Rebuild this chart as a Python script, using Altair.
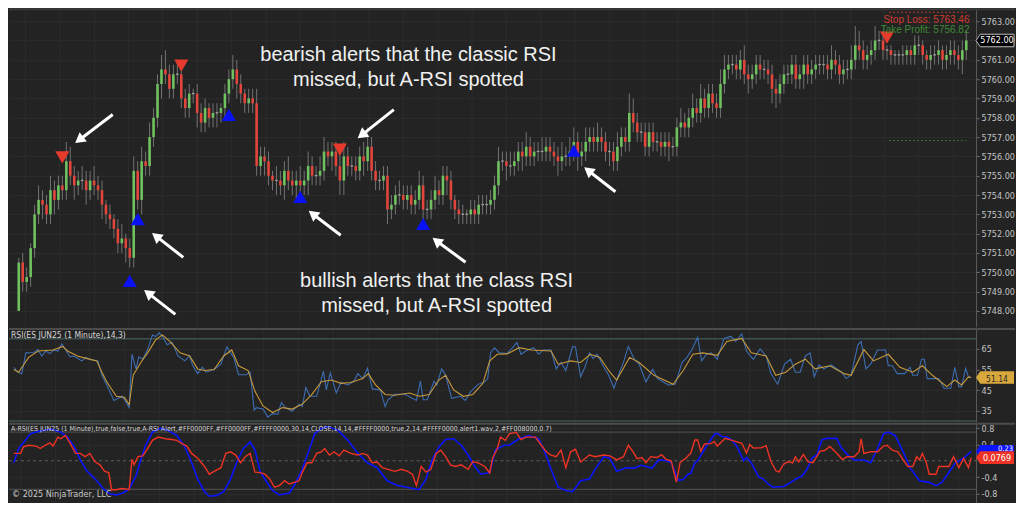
import altair as alt
import pandas as pd
import numpy as np

# ---------------- price bars (1 minute ES JUN25) ----------------
first_open = 5748.0
closes = [
    5750.5, 5749.5, 5749.75, 5751.25, 5753.0, 5753.75, 5753.5, 5753.0, 5754.25, 5753.75,
    5754.5, 5754.25, 5755.75, 5755.0, 5754.5, 5754.75, 5754.75, 5754.25, 5754.75, 5754.5,
    5754.25, 5753.5, 5753.0, 5752.75, 5752.25, 5751.5, 5751.75, 5751.25, 5750.75, 5755.25,
    5753.75, 5755.75, 5755.5, 5757.0, 5758.0, 5759.75, 5760.5, 5760.25, 5759.5, 5760.25,
    5760.25, 5759.0, 5758.5, 5759.25, 5759.25, 5758.25, 5757.75, 5758.5, 5758.0, 5758.25,
    5758.25, 5758.5, 5759.25, 5760.0, 5760.5, 5759.75, 5759.25, 5758.75, 5759.0, 5758.75,
    5755.5, 5756.0, 5755.75, 5755.0, 5754.75, 5754.75, 5754.5, 5755.25, 5754.75, 5754.5,
    5754.75, 5754.5, 5754.75, 5755.5, 5755.0, 5755.0, 5755.25, 5756.25, 5756.0, 5756.25,
    5755.5, 5754.75, 5756.0, 5755.5, 5755.5, 5755.25, 5756.0, 5755.75, 5756.5, 5755.25,
    5754.75, 5754.75, 5755.0, 5753.25, 5753.5, 5754.0, 5754.0, 5753.75, 5754.0, 5753.5,
    5753.75, 5754.5, 5753.25, 5753.25, 5753.75, 5754.25, 5754.0, 5755.0, 5754.75, 5753.75,
    5753.25, 5753.0, 5753.0, 5753.0, 5753.25, 5753.0, 5753.5, 5753.5, 5753.5, 5753.75,
    5754.5, 5755.75, 5755.75, 5755.5, 5755.5, 5755.75, 5756.25, 5756.0, 5756.5, 5756.0,
    5756.25, 5756.25, 5756.25, 5756.5, 5756.25, 5756.0, 5755.75, 5756.0, 5756.0, 5756.25,
    5756.75, 5756.0, 5756.25, 5756.75, 5757.0, 5756.75, 5757.0, 5756.75, 5756.25, 5756.25,
    5755.75, 5756.5, 5757.0, 5756.75, 5758.25, 5757.75, 5757.25, 5757.25, 5756.5, 5757.25,
    5756.75, 5756.75, 5756.5, 5756.75, 5756.5, 5756.5, 5757.5, 5757.75, 5757.5, 5758.0,
    5758.5, 5758.25, 5759.0, 5758.5, 5759.25, 5758.75, 5758.5, 5759.75, 5760.5, 5760.75,
    5760.75, 5760.5, 5761.0, 5760.25, 5760.0, 5760.25, 5760.75, 5760.5, 5760.5, 5760.25,
    5759.5, 5759.25, 5759.75, 5760.25, 5760.25, 5760.75, 5760.0, 5760.25, 5760.75, 5760.25,
    5760.5, 5760.75, 5760.75, 5760.75, 5760.5, 5761.0, 5760.75, 5760.25, 5760.5, 5760.5,
    5761.0, 5761.75, 5761.5, 5761.0, 5761.25, 5761.5, 5762.0, 5762.0, 5761.5, 5761.5,
    5761.25, 5761.25, 5761.25, 5761.25, 5761.5, 5761.25, 5761.75, 5761.75, 5761.25, 5761.0,
    5761.25, 5761.25, 5761.5, 5761.0, 5761.25, 5761.5, 5761.25, 5761.0, 5761.5, 5762.0,
]
tick_size = 0.25
wick_up_ticks = [
    1, 2, 2, 1, 2, 3, 2, 2, 3, 2, 2, 2, 4, 3, 2, 2, 3, 2, 2, 3,
    2, 2, 1, 2, 1, 2, 3, 1, 2, 3, 2, 3, 2, 3, 2, 2, 3, 4, 2, 2,
    3, 2, 2, 2, 1, 2, 2, 2, 1, 2, 2, 1, 2, 2, 3, 2, 2, 1, 2, 2,
    3, 2, 2, 2, 1, 3, 2, 2, 3, 2, 2, 3, 2, 3, 2, 2, 3, 3, 2, 2,
    2, 3, 3, 2, 2, 2, 2, 3, 4, 2, 2, 2, 2, 2, 2, 2, 3, 2, 2, 2,
    2, 3, 2, 2, 2, 3, 2, 2, 2, 2, 1, 2, 2, 1, 2, 2, 2, 2, 2, 2,
    2, 3, 2, 2, 3, 2, 2, 2, 3, 2, 2, 2, 3, 2, 2, 2, 2, 3, 2, 3,
    3, 2, 2, 3, 2, 2, 3, 2, 2, 2, 2, 3, 2, 2, 4, 3, 2, 2, 2, 2,
    2, 2, 2, 2, 2, 2, 2, 3, 2, 2, 3, 2, 3, 2, 2, 2, 2, 3, 3, 2,
    2, 2, 2, 3, 2, 2, 2, 2, 2, 2, 2, 2, 2, 2, 2, 2, 2, 2, 2, 2,
    2, 2, 2, 2, 2, 3, 2, 2, 2, 2, 3, 4, 3, 2, 2, 2, 3, 2, 2, 1,
    1, 1, 1, 2, 1, 1, 2, 2, 1, 1, 2, 2, 2, 1, 2, 2, 2, 2, 2, 2,
]
wick_dn_ticks = [
    0, 2, 2, 2, 2, 2, 3, 2, 2, 3, 2, 2, 2, 2, 3, 2, 2, 3, 2, 2,
    2, 3, 2, 2, 2, 2, 2, 3, 2, 2, 2, 3, 2, 2, 2, 2, 3, 2, 2, 2,
    2, 2, 2, 2, 2, 3, 2, 2, 2, 2, 3, 2, 2, 2, 2, 3, 2, 2, 2, 2,
    2, 2, 3, 2, 2, 3, 2, 3, 2, 2, 3, 2, 2, 3, 2, 2, 2, 2, 2, 3,
    2, 3, 3, 2, 2, 2, 2, 3, 2, 2, 2, 2, 2, 3, 2, 2, 2, 2, 2, 2,
    2, 2, 3, 2, 2, 2, 2, 2, 3, 2, 2, 2, 2, 2, 2, 2, 2, 2, 2, 2,
    2, 2, 2, 3, 2, 2, 2, 3, 2, 2, 2, 2, 2, 2, 2, 2, 3, 2, 2, 2,
    2, 3, 2, 2, 2, 2, 2, 2, 2, 3, 2, 2, 2, 2, 2, 2, 2, 2, 2, 2,
    2, 2, 2, 2, 3, 2, 2, 2, 2, 2, 2, 2, 2, 2, 2, 2, 2, 2, 2, 2,
    2, 2, 2, 2, 3, 2, 2, 2, 2, 2, 3, 3, 2, 2, 2, 2, 2, 2, 3, 2,
    2, 2, 2, 2, 2, 2, 2, 2, 2, 2, 2, 2, 2, 2, 2, 2, 2, 2, 2, 2,
    2, 2, 2, 2, 2, 2, 2, 2, 2, 2, 2, 2, 2, 2, 2, 2, 2, 2, 3, 2,
]

# ---------------- RSI(14,3) panel: (bar, value) ----------------
rsi_pts = [
    (0, 56.1), (1, 53.7), (2, 53.0), (3, 63.1), (5, 63.3), (6, 64.7), (7, 61.5), (8, 64.0), (9, 62.7),
    (10, 64.5), (11, 64.0), (12, 67.5), (14, 61.2), (15, 61.5), (17, 59.2), (18, 60.9), (19, 60.0),
    (21, 59.2), (22, 52.2), (23, 48.3), (25, 40.0), (27, 42.0), (27.6, 40.5), (28.8, 36.5), (29.5, 62.4),
    (30.5, 55.3), (31.2, 61.2), (32.2, 60.0), (33.4, 64.7), (34.6, 71.8), (35.4, 71.0), (36.3, 72.8),
    (37.1, 71.0), (38.3, 67.0), (39.5, 68.2), (41.0, 61.6), (42.7, 59.2), (43.9, 61.6), (44.6, 57.2),
    (45.9, 53.0), (47.1, 56.1), (48.0, 53.7), (50.0, 55.0), (51.7, 57.6), (53.2, 66.0), (54.1, 63.1),
    (54.9, 60.9), (56.1, 52.5), (58.0, 52.5), (59.0, 53.7), (60.0, 35.3), (60.5, 36.5), (62.2, 35.8),
    (63.4, 31.9), (64.6, 33.6), (65.9, 33.3), (66.8, 38.9), (67.8, 36.5), (69.5, 34.7), (71.2, 38.2),
    (72.0, 37.0), (72.9, 46.2), (73.9, 42.0), (75.6, 42.0), (77.3, 54.1), (78.0, 45.1), (79.0, 53.4),
    (80.5, 43.6), (81.7, 48.7), (83.4, 47.5), (84.9, 49.4), (85.9, 53.0), (87.1, 50.6), (88.3, 55.6),
    (89.5, 45.6), (91.5, 45.1), (92.7, 37.0), (93.4, 40.3), (95.1, 43.0), (97.6, 43.0), (100.5, 40.0),
    (101.5, 49.4), (102.2, 40.3), (103.2, 40.3), (104.9, 49.4), (105.6, 47.5), (106.8, 55.3),
    (107.8, 52.2), (109.3, 41.0), (111.5, 42.0), (112.7, 40.0), (114.1, 44.4), (115.9, 47.8),
    (117.6, 49.1), (118.3, 50.6), (119.0, 63.1), (120.0, 65.5), (121.2, 63.1), (123.2, 62.8),
    (125.6, 68.1), (126.6, 62.4), (127.8, 64.0), (129.8, 65.6), (131.0, 62.4), (132.2, 64.5),
    (134.1, 64.5), (135.4, 55.3), (136.6, 58.4), (137.8, 54.5), (139.5, 66.2), (140.2, 66.0),
    (141.5, 51.4), (142.7, 56.8), (143.7, 63.1), (144.6, 60.3), (145.6, 62.4), (147.3, 56.1),
    (148.5, 52.2), (149.8, 45.9), (151.2, 53.7), (152.2, 58.6), (153.4, 66.2), (154.9, 60.0),
    (156.1, 57.6), (157.8, 49.0), (159.5, 55.0), (160.7, 50.6), (163.4, 47.5), (165.1, 47.8),
    (166.8, 58.4), (168.0, 60.9), (169.3, 64.7), (170.7, 70.6), (171.7, 59.2), (172.9, 62.4),
    (174.1, 63.1), (175.6, 60.0), (177.3, 70.1), (179.0, 71.2), (180.2, 68.6), (181.7, 72.3),
    (182.9, 64.0), (184.6, 60.0), (186.3, 65.0), (187.8, 61.6), (189.0, 53.0), (190.7, 47.8),
    (192.4, 57.6), (193.9, 60.0), (195.1, 53.7), (196.3, 53.7), (197.6, 61.6), (198.8, 63.1),
    (199.8, 51.4), (201.0, 57.2), (202.2, 55.3), (204.1, 57.2), (206.6, 53.7), (207.8, 50.6),
    (209.0, 52.2), (210.7, 67.0), (211.5, 68.6), (212.7, 55.3), (213.9, 57.6), (215.6, 64.5),
    (217.6, 64.5), (218.3, 56.8), (219.3, 56.8), (220.5, 53.0), (222.4, 53.0), (223.7, 56.1),
    (224.4, 52.2), (225.6, 52.2), (226.6, 60.0), (227.3, 60.0), (228.0, 50.6), (230.9, 50.6),
    (232.2, 45.9), (233.9, 45.9), (234.9, 56.1), (235.9, 46.7), (236.6, 46.7), (237.6, 55.6),
    (238.3, 51.4), (239.0, 51.14),
]
signal_pts = [
    (0, 55.0), (1.2, 53.7), (3.7, 60.9), (6.1, 64.0), (9.8, 64.5), (12.2, 66.2), (13.4, 64.0),
    (15.9, 61.6), (18.3, 60.3), (20.7, 59.2), (22.0, 53.7), (23.2, 49.1), (25.6, 42.0), (27.6, 41.5),
    (28.8, 38.0), (29.8, 52.2), (31.7, 58.4), (33.4, 63.1), (35.4, 69.4), (37.1, 71.8), (39.0, 68.6),
    (41.5, 63.1), (43.9, 61.6), (45.9, 55.3), (47.6, 54.5), (50.0, 55.0), (52.4, 61.6), (54.4, 64.5),
    (56.1, 56.8), (58.5, 54.5), (60.2, 44.4), (62.2, 37.3), (64.6, 34.1), (67.1, 36.5), (69.5, 35.8),
    (72.0, 38.2), (74.4, 42.9), (76.8, 49.1), (79.3, 49.9), (81.7, 48.3), (84.1, 48.7), (87.1, 50.6),
    (88.5, 53.0), (90.2, 47.8), (92.7, 42.9), (95.1, 42.5), (98.8, 43.6), (101.2, 42.0), (103.7, 42.9),
    (106.1, 49.9), (107.8, 52.2), (109.8, 45.1), (112.2, 42.0), (114.6, 42.9), (117.1, 48.3),
    (118.8, 59.2), (120.7, 62.4), (123.2, 62.6), (126.1, 65.6), (129.3, 64.5), (134.1, 64.0),
    (135.9, 57.6), (139.0, 59.2), (141.5, 58.4), (143.9, 62.4), (146.3, 60.9), (148.8, 53.7),
    (150.5, 49.9), (153.7, 60.9), (156.1, 58.4), (159.8, 52.2), (164.6, 47.8), (167.1, 54.5),
    (169.5, 62.4), (172.0, 63.1), (175.6, 61.9), (178.0, 68.6), (181.7, 70.1), (184.1, 63.1),
    (187.8, 61.6), (190.2, 52.2), (192.7, 53.7), (195.1, 57.6), (197.6, 60.0), (200.0, 55.3),
    (203.7, 56.8), (207.3, 53.0), (209.0, 52.2), (212.2, 64.7), (214.6, 59.2), (218.3, 62.4),
    (221.2, 56.1), (224.4, 53.7), (226.8, 56.8), (229.3, 52.2), (232.9, 46.7), (234.9, 49.9),
    (236.6, 47.5), (238.3, 51.4), (239.0, 51.1),
]

# ---------------- A-RSI panel: (bar, value) ----------------
arsi_blue_pts = [
    (0, -0.05), (1.2, 0.30), (2.9, 0.50), (4.1, 0.66), (6.1, 0.72), (9.3, 0.78), (11.7, 0.70),
    (13.4, 0.58), (15.1, 0.34), (16.6, 0.02), (18.3, -0.26), (19.5, -0.37), (20.7, -0.49),
    (22.4, -0.69), (23.9, -0.81), (25.6, -0.84), (27.3, -0.79), (28.8, -0.69), (30.5, -0.37),
    (31.7, 0.02), (32.9, 0.38), (34.6, 0.70), (36.6, 0.80), (38.5, 0.74), (40.7, 0.62), (42.7, 0.34),
    (44.4, -0.05), (45.9, -0.45), (47.6, -0.76), (48.8, -0.87), (50.7, -0.85), (52.4, -0.76),
    (54.1, -0.45), (55.6, -0.05), (57.3, 0.30), (59.0, 0.46), (60.2, 0.26), (61.5, -0.26),
    (62.9, -0.49), (64.6, -0.73), (66.3, -0.84), (68.8, -0.79), (70.2, -0.57), (72.0, -0.21),
    (73.7, 0.26), (75.1, 0.66), (76.8, 0.80), (78.5, 0.84), (81.0, 0.74), (83.4, 0.50), (85.9, 0.18),
    (88.3, -0.05), (90.7, -0.17), (93.2, -0.49), (95.6, -0.60), (98.0, -0.65), (101.2, -0.71),
    (102.9, -0.45), (104.4, 0.02), (106.1, 0.34), (107.8, 0.52), (109.8, 0.54), (111.7, 0.38),
    (113.4, 0.14), (115.1, -0.14), (116.6, -0.33), (118.8, -0.29), (120.2, 0.26), (122.4, 0.38),
    (123.7, 0.38), (126.1, 0.54), (128.5, 0.62), (131.0, 0.54), (132.7, 0.18), (134.1, -0.21),
    (135.9, -0.65), (137.8, -0.73), (139.5, -0.76), (141.5, -0.49), (143.7, -0.45), (145.1, -0.21),
    (147.3, 0.10), (148.8, 0.06), (150.5, -0.26), (152.9, -0.17), (154.9, -0.18), (156.6, -0.11),
    (159.3, -0.18), (161.0, 0.02), (162.9, 0.0), (164.1, -0.05), (165.9, -0.48), (167.1, -0.46),
    (168.3, -0.33), (169.0, -0.31), (170.0, -0.05), (170.7, 0.0), (172.7, 0.33), (174.9, 0.65),
    (175.6, 0.67), (176.8, 0.59), (178.0, 0.59), (179.3, 0.50), (180.5, 0.35), (182.2, 0.0),
    (182.9, 0.08), (184.1, -0.05), (185.9, -0.39), (187.1, -0.45), (188.3, -0.57), (189.5, -0.65),
    (192.2, -0.63), (193.9, -0.53), (195.6, -0.43), (196.8, -0.37), (198.0, -0.21), (199.3, 0.07),
    (200.5, 0.15), (201.7, 0.51), (202.9, 0.55), (205.4, 0.55), (206.6, 0.31), (208.5, 0.11),
    (209.8, 0.02), (212.2, 0.02), (213.9, -0.05), (215.6, 0.30), (217.1, 0.66), (218.3, 0.70),
    (220.0, 0.62), (222.0, 0.22), (223.7, -0.17), (226.1, -0.49), (228.5, -0.53), (230.2, -0.61),
    (231.7, -0.53), (233.4, -0.29), (235.1, -0.05), (237.1, 0.06), (239.0, 0.23),
]
arsi_red_pts = [
    (0, 0.18), (1.7, 0.18), (2.4, 0.34), (3.7, 0.38), (5.6, 0.36), (6.6, 0.30), (7.8, 0.38), (9.0, 0.44),
    (9.8, 0.36), (11.0, 0.58), (11.7, 0.54), (12.9, 0.62), (14.1, 0.42), (15.4, 0.18), (16.6, 0.18),
    (17.8, 0.10), (19.0, 0.18), (20.2, -0.02), (21.5, -0.10), (22.7, -0.26), (23.7, -0.29),
    (24.4, -0.71), (25.6, -0.71), (26.8, -0.68), (28.0, -0.69), (28.8, -0.71), (29.5, 0.04),
    (30.0, -0.10), (31.0, 0.10), (32.2, 0.12), (33.4, 0.30), (34.6, 0.50), (36.1, 0.58), (37.8, 0.54),
    (39.5, 0.52), (40.7, 0.50), (42.0, 0.42), (43.2, 0.36), (44.4, 0.18), (45.9, 0.06), (47.6, -0.14),
    (48.8, -0.33), (50.0, -0.26), (51.7, -0.17), (52.9, 0.18), (54.1, 0.22), (55.4, 0.14),
    (56.6, -0.05), (57.8, 0.10), (59.0, 0.18), (60.2, -0.28), (61.5, -0.29), (62.7, -0.33),
    (63.9, -0.45), (65.1, -0.65), (66.3, -0.61), (67.6, -0.49), (68.8, -0.57), (70.0, -0.53),
    (71.2, -0.49), (72.0, -0.29), (73.2, -0.05), (74.4, -0.05), (75.6, 0.18), (76.8, 0.22),
    (77.6, 0.30), (78.8, 0.14), (80.0, 0.22), (81.2, 0.12), (82.4, 0.26), (84.1, 0.18), (85.9, 0.14),
    (87.1, 0.18), (88.3, 0.14), (89.5, -0.05), (90.7, -0.03), (92.0, -0.17), (93.4, -0.21),
    (95.1, -0.26), (96.8, -0.21), (98.3, -0.26), (99.5, -0.33), (100.5, -0.61), (101.7, -0.14),
    (102.9, -0.28), (104.1, -0.21), (105.4, 0.18), (106.6, 0.26), (107.8, 0.10), (109.0, -0.10),
    (110.2, -0.14), (111.7, -0.10), (113.4, -0.21), (114.6, -0.02), (115.9, -0.05), (117.6, -0.14),
    (118.8, -0.30), (119.5, 0.06), (120.7, 0.30), (121.5, 0.58), (122.7, 0.50), (123.7, 0.66),
    (125.4, 0.70), (126.6, 0.52), (127.8, 0.58), (130.2, 0.58), (131.7, 0.38), (132.9, 0.22),
    (134.1, 0.14), (135.4, 0.10), (136.6, 0.26), (137.8, -0.17), (139.0, 0.22), (140.2, 0.28),
    (141.5, -0.03), (143.7, 0.14), (145.1, 0.10), (147.3, 0.14), (148.8, 0.12), (150.5, 0.02),
    (152.2, 0.10), (153.4, 0.38), (154.6, 0.22), (155.6, 0.05), (156.8, 0.08), (157.8, -0.05),
    (159.0, 0.10), (160.5, 0.08), (161.7, 0.15), (162.9, 0.03), (164.1, 0.0), (165.4, -0.52),
    (166.3, -0.05), (167.8, 0.07), (169.0, 0.19), (170.0, 0.51), (170.7, 0.51), (171.5, 0.23),
    (172.4, 0.41), (173.9, 0.42), (174.9, 0.47), (175.6, 0.36), (177.6, 0.55), (179.3, 0.50),
    (181.7, 0.43), (182.9, 0.19), (183.7, 0.40), (184.6, 0.31), (186.6, 0.32), (187.8, 0.37),
    (189.0, -0.02), (190.2, -0.24), (191.0, -0.28), (192.2, -0.08), (193.4, -0.02), (194.4, -0.05),
    (195.1, 0.10), (195.9, -0.03), (197.1, 0.15), (198.3, -0.03), (199.5, -0.05), (201.2, 0.23),
    (202.4, 0.25), (203.7, 0.35), (205.4, 0.19), (206.8, 0.03), (208.0, 0.10), (209.8, 0.10),
    (211.0, 0.22), (211.5, 0.54), (212.2, 0.18), (213.9, 0.22), (215.6, 0.22), (217.1, 0.36),
    (218.0, 0.38), (219.3, 0.26), (220.7, 0.22), (222.0, 0.02), (223.2, -0.14), (224.4, -0.14),
    (225.4, 0.10), (226.1, 0.02), (226.8, 0.18), (227.8, -0.05), (228.5, -0.33), (230.2, -0.33),
    (230.9, -0.14), (233.4, -0.14), (234.6, 0.10), (235.9, -0.17), (237.1, 0.06), (238.3, -0.17),
    (239.0, 0.0769),
]

# ---------------- alerts, arrows, notes ----------------
bear_bar = [11, 41, 81, 219]
bear_price = [5755.95, 5760.7, 5756.35, 5762.15]
bull_bar = [28, 30, 53, 71, 102, 140]
bull_price = [5749.55, 5752.75, 5758.15, 5753.9, 5752.5, 5756.3]

arrow_tail_bar = [23.7, 41.5, 39.5, 94.6, 81.2, 112.7, 150.5]
arrow_tail_price = [5758.17, 5750.77, 5747.82, 5758.42, 5751.92, 5750.52, 5754.17]
arrow_head_bar = [14.1, 33.7, 31.7, 85.4, 73.2, 104.4, 142.7]
arrow_head_price = [5756.67, 5752.02, 5749.07, 5756.92, 5753.17, 5751.77, 5755.42]
arrow_angle = [232, 308, 308, 232, 308, 308, 308]

note_text = [
    "bearish alerts that the classic RSI\nmissed, but A-RSI spotted",
    "bullish alerts that the class RSI\nmissed, but A-RSI spotted",
]
note_bar = [98.3, 105.4]
note_price = [5761.27, 5749.57]   # first line of each note

stop_loss = 5763.46
take_profit = 5756.82
order_bars = [219.5, 239.0]
rsi_last_label = "51.14"
blue_last_label = "0.23"
red_last_label = "0.0769"

price_ticks = list(range(5748, 5764))
rsi_ticks = [35, 45, 55, 65]
rsi_levels = [30, 70]
arsi_ticks = [-0.8, -0.4, 0.4, 0.8]
arsi_levels = [-0.7, 0.7]

rsi_title = "RSI(ES JUN25 (1 Minute),14,3)"
arsi_title = ("A-RSI(ES JUN25 (1 Minute),true,false,true,A-RSI Alert,#FF0000FF,#FF0000FF,#FFFF0000,30,14,"
              "CLOSE,14,14,#FFFF0000,true,2,14,#FFFF0000,alert1.wav,2,#FF008000,0.7)")
copyright_text = "\u00a9 2025 NinjaTrader, LLC"

# ---------------- layout & style ----------------
W = 968
H1, H2, H3 = 319, 94, 80
XDOM = [-1.2, 240.2]
PDOM = [5747.17, 5763.67]
RDOM = [29.6, 75.2]
ADOM = [-1.03, 0.93]

BG = "#232323"
GRID = "#2c2c2c"
AXT = "#c4c4c4"
SEP = "#4c4c4c"
GREEN = "#6fc25f"
RED = "#e2453b"
WICK = "#727272"
SMALL = "Liberation Sans Narrow, DejaVu Sans Condensed, Liberation Sans, Arial"
BIG = "Liberation Sans, Arial"
TAG = "M-1,0L-0.78,-0.33L1,-0.33L1,0.33L-0.78,0.33Z"

grid_x = [round(1.51 + 8.67 * k, 2) for k in range(28)]

x_axis = alt.Axis(values=grid_x, labels=False, ticks=False, domain=False, grid=True,
                  gridColor=GRID, title=None)
xscale = alt.Scale(domain=XDOM, nice=False, zero=False)


def X(field):
    return alt.X(f"{field}:Q", scale=xscale, axis=x_axis)


def yaxis(values, fmt=None, expr=None):
    kw = dict(orient="right", values=values, labelColor=AXT, labelFont=SMALL, labelFontSize=9,
              tickColor="#707070", tickSize=3, labelPadding=2, domainColor="#5a5a5a",
              grid=True, gridColor=GRID, title=None, labelOverlap=False)
    if fmt:
        kw["format"] = fmt
    if expr:
        kw["labelExpr"] = expr
    return alt.Axis(**kw)


p_axis = yaxis(price_ticks, fmt=".2f")
r_axis = yaxis(rsi_ticks, fmt="d")
a_axis = yaxis(arsi_ticks, expr="replace(format(datum.value, '.1~f'), '\u2212', '-')")
pscale = alt.Scale(domain=PDOM, nice=False, zero=False)
rscale = alt.Scale(domain=RDOM, nice=False, zero=False)
ascale = alt.Scale(domain=ADOM, nice=False, zero=False)


def PY(field):
    return alt.Y(f"{field}:Q", scale=pscale, axis=p_axis)


def RY(field):
    return alt.Y(f"{field}:Q", scale=rscale, axis=r_axis)


def AY(field):
    return alt.Y(f"{field}:Q", scale=ascale, axis=a_axis)


# ---------------- tables ----------------
opens = [first_open] + closes[:-1]
bars = pd.DataFrame({"bar": range(len(closes)), "open": opens, "close": closes})
bars["top"] = bars[["open", "close"]].max(axis=1)
bars["bot"] = bars[["open", "close"]].min(axis=1)
bars["high"] = bars["top"] + np.array(wick_up_ticks) * tick_size
bars["low"] = bars["bot"] - np.array(wick_dn_ticks) * tick_size
bars["dir"] = np.where(bars["close"] > bars["open"], "up",
                       np.where(bars["close"] < bars["open"], "down", "flat"))
bars["btop"] = np.where(bars["dir"] == "flat", bars["top"] + 0.04, bars["top"])
bars["bbot"] = np.where(bars["dir"] == "flat", bars["bot"] - 0.03, bars["bot"])

bear = pd.DataFrame({"bar": bear_bar, "price": bear_price})
bull = pd.DataFrame({"bar": bull_bar, "price": bull_price})
arrows = pd.DataFrame({"tb": arrow_tail_bar, "tp": arrow_tail_price,
                       "hb": arrow_head_bar, "hp": arrow_head_price, "ang": arrow_angle})
arrows["cb"] = arrows["hb"] + (arrows["tb"] - arrows["hb"]) * 0.12
arrows["cp"] = arrows["hp"] + (arrows["tp"] - arrows["hp"]) * 0.12
notes = pd.DataFrame({"bar": note_bar, "price": note_price, "t": note_text})
sl_line = pd.DataFrame({"b1": [order_bars[0]], "b2": [order_bars[1]], "lvl": [stop_loss]})
tp_line = pd.DataFrame({"b1": [order_bars[0]], "b2": [order_bars[1]], "lvl": [take_profit]})
sl_txt = pd.DataFrame({"bar": [order_bars[1] + 0.8], "price": [5763.05],
                       "t": [f"Stop Loss: {stop_loss:.2f}"]})
tp_txt = pd.DataFrame({"bar": [order_bars[1] + 0.8], "price": [5762.55],
                       "t": [f"Take Profit: {take_profit:.2f}"]})
last_price = pd.DataFrame({"v": [closes[-1]], "t": [f"{closes[-1]:.2f}"]})

rsi = pd.DataFrame(rsi_pts, columns=["bar", "v"])
sig = pd.DataFrame(signal_pts, columns=["bar", "v"])
ablue = pd.DataFrame(arsi_blue_pts, columns=["bar", "v"])
ared = pd.DataFrame(arsi_red_pts, columns=["bar", "v"])
rlev = pd.DataFrame({"v": rsi_levels})
alev = pd.DataFrame({"v": arsi_levels})
azero = pd.DataFrame({"v": [0.0]})
rsi_tag = pd.DataFrame({"v": [rsi_pts[-1][1]], "t": [rsi_last_label]})
blue_tag = pd.DataFrame({"v": [arsi_blue_pts[-1][1]], "t": [blue_last_label]})
red_tag = pd.DataFrame({"v": [arsi_red_pts[-1][1]], "t": [red_last_label]})
one = pd.DataFrame({"t": [""]})

TAGX = W + 19

# ---------------- price panel ----------------
wicks = alt.Chart(bars).mark_rule(color=WICK, strokeWidth=1).encode(
    x=X("bar"), y=PY("low"), y2="high")
bodies = alt.Chart(bars).mark_bar(size=2.6).encode(
    x=X("bar"), y=PY("bbot"), y2="btop",
    color=alt.Color("dir:N", scale=alt.Scale(domain=["up", "down", "flat"],
                                             range=[GREEN, RED, "#a0a0a0"]), legend=None))
bear_m = alt.Chart(bear).mark_point(shape="triangle-down", filled=True, size=200,
                                    color="#e63b2c", opacity=1).encode(x=X("bar"), y=PY("price"))
bull_m = alt.Chart(bull).mark_point(shape="triangle-up", filled=True, size=200,
                                    color="#0a12f5", opacity=1).encode(x=X("bar"), y=PY("price"))
arrow_lines = alt.Chart(arrows).mark_rule(color="#ffffff", strokeWidth=3).encode(
    x=X("tb"), y=PY("tp"), x2="cb", y2="cp")
arrow_heads = alt.Chart(arrows).mark_point(shape="triangle-up", filled=True, size=140,
                                           color="#ffffff", opacity=1).encode(
    x=X("cb"), y=PY("cp"), angle=alt.Angle("ang:Q", scale=None))
note_m = alt.Chart(notes).mark_text(font=BIG, fontSize=20, color="#f0f0f0", lineBreak="\n",
                                    lineHeight=25, align="center", baseline="middle").encode(
    x=X("bar"), y=PY("price"), text="t:N")
sl_rule = alt.Chart(sl_line).mark_rule(strokeDash=[2, 2], strokeWidth=1, color="#b8392e").encode(
    x=X("b1"), x2="b2", y=PY("lvl"))
tp_rule = alt.Chart(tp_line).mark_rule(strokeDash=[2, 2], strokeWidth=1, color="#2f7a2f").encode(
    x=X("b1"), x2="b2", y=PY("lvl"))
sl_label = alt.Chart(sl_txt).mark_text(font=BIG, fontSize=10, align="right", baseline="middle",
                                       color="#d23a2e").encode(x=X("bar"), y=PY("price"), text="t:N")
tp_label = alt.Chart(tp_txt).mark_text(font=BIG, fontSize=10, align="right", baseline="middle",
                                       color="#3d8a35").encode(x=X("bar"), y=PY("price"), text="t:N")
price_tag = alt.Chart(last_price).mark_point(shape=TAG, filled=True, size=1444, fill="#000000",
                                             stroke="#bdbdbd", strokeWidth=1, opacity=1).encode(
    x=alt.value(TAGX), y=PY("v"))
price_tag_t = alt.Chart(last_price).mark_text(font=SMALL, fontSize=9, color="#ffffff",
                                              align="center", baseline="middle").encode(
    x=alt.value(TAGX + 2), y=PY("v"), text="t:N")
top_border = alt.Chart(one).mark_rule(color="#3a3a3a", strokeWidth=2).encode(
    x=alt.value(0), x2=alt.value(W + 39), y=alt.value(1))

p1 = alt.layer(wicks, bodies, sl_rule, tp_rule, bear_m, bull_m, arrow_lines, arrow_heads, note_m,
               sl_label, tp_label, price_tag, price_tag_t, top_border).properties(width=W, height=H1)

# ---------------- RSI panel ----------------
r_lev = alt.Chart(rlev).mark_rule(color="#3e5150", strokeWidth=1.5).encode(
    y=RY("v"), x=alt.value(0), x2=alt.value(W))
r_line = alt.Chart(rsi).mark_line(color="#3d6db3", strokeWidth=1.1).encode(x=X("bar"), y=RY("v"))
s_line = alt.Chart(sig).mark_line(color="#c79a3b", strokeWidth=1.1).encode(x=X("bar"), y=RY("v"))
r_title = alt.Chart(one.assign(t=[rsi_title])).mark_text(
    font=SMALL, fontSize=8.5, color="#d6d6d6", align="left", baseline="middle").encode(
    x=alt.value(2), y=alt.value(7), text="t:N")
r_tag = alt.Chart(rsi_tag).mark_point(shape=TAG, filled=True, size=1444, fill="#d8a83c",
                                      opacity=1).encode(x=alt.value(TAGX), y=RY("v"))
r_tag_t = alt.Chart(rsi_tag).mark_text(font=SMALL, fontSize=8.5, color="#2a2a2a", align="center",
                                       baseline="middle", dy=1.5).encode(
    x=alt.value(TAGX + 2), y=RY("v"), text="t:N")
sep2 = alt.Chart(one).mark_rule(color=SEP, strokeWidth=2).encode(
    x=alt.value(0), x2=alt.value(W + 39), y=alt.value(1))
p2 = alt.layer(r_lev, r_line, s_line, r_title, r_tag, r_tag_t, sep2).properties(width=W, height=H2)

# ---------------- A-RSI panel ----------------
a_lev = alt.Chart(alev).mark_rule(color="#4a4a4a", strokeWidth=1.2).encode(
    y=AY("v"), x=alt.value(0), x2=alt.value(W))
a_zero = alt.Chart(azero).mark_rule(color="#5f5f5f", strokeWidth=1, strokeDash=[3, 3]).encode(
    y=AY("v"), x=alt.value(0), x2=alt.value(W))
b_line = alt.Chart(ablue).mark_line(color="#0b14ff", strokeWidth=1.6).encode(x=X("bar"), y=AY("v"))
rd_line = alt.Chart(ared).mark_line(color="#ee3324", strokeWidth=1.4).encode(x=X("bar"), y=AY("v"))
a_title = alt.Chart(one.assign(t=[arsi_title])).mark_text(
    font=SMALL, fontSize=7.0, color="#d6d6d6", align="left", baseline="middle").encode(
    x=alt.value(2), y=alt.value(6), text="t:N")
copy_t = alt.Chart(one.assign(t=[copyright_text])).mark_text(
    font=SMALL, fontSize=9, color="#c8c8c8", align="left", baseline="middle").encode(
    x=alt.value(3), y=alt.value(71), text="t:N")
b_tag = alt.Chart(blue_tag).mark_point(shape=TAG, filled=True, size=1444, fill="#0b14ff",
                                       opacity=1).encode(x=alt.value(TAGX), y=AY("v"))
b_tag_t = alt.Chart(blue_tag).mark_text(font=SMALL, fontSize=7.5, color="#ffffff", align="right",
                                        baseline="top", dy=-6.5).encode(
    x=alt.value(W + 37), y=AY("v"), text="t:N")
rd_tag = alt.Chart(red_tag).mark_point(shape=TAG, filled=True, size=1444, fill="#ee3324",
                                       opacity=1).encode(x=alt.value(TAGX), y=AY("v"))
rd_tag_t = alt.Chart(red_tag).mark_text(font=SMALL, fontSize=9, color="#ffffff", align="center",
                                        baseline="middle", dy=0.5).encode(
    x=alt.value(TAGX + 2), y=AY("v"), text="t:N")
sep3 = alt.Chart(one).mark_rule(color=SEP, strokeWidth=2).encode(
    x=alt.value(0), x2=alt.value(W + 39), y=alt.value(1))
p3 = alt.layer(a_lev, a_zero, b_line, rd_line, a_title, copy_t, b_tag, b_tag_t, rd_tag, rd_tag_t,
               sep3).properties(width=W, height=H3)

chart = alt.vconcat(p1, p2, p3, spacing=1).properties(padding=0, background=BG).configure_view(
    strokeWidth=0)

chart.save("out.html", embed_options={"renderer": "svg", "actions": False})
